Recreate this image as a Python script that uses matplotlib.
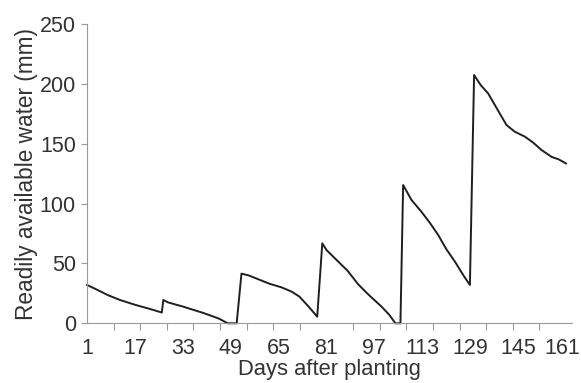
import numpy as np
import matplotlib
matplotlib.use('Agg')
from matplotlib import pyplot as plt
from matplotlib import transforms

# readily available water (piecewise, days after planting)
days = [1, 4, 8, 12, 17, 22, 26,
        26.5, 28, 33, 40, 45, 48, 51,
        52.6, 55, 62, 66, 69.4, 72, 75, 77.9,
        79.6, 81, 83.8, 88, 91.6, 95, 99.4, 102, 104, 105.7,
        106.6, 109.4, 112.7, 115.5, 118.3, 121, 123.9, 127, 128.9,
        130.3, 132.5, 135, 138, 141.1, 143.9, 147.2, 150, 152.8, 156.2, 158.5, 161]
water = [32, 28.5, 23.5, 19.5, 15.5, 12, 9,
         19.5, 17.5, 14, 8.5, 4, 0, 0,
         41.5, 40, 33, 30, 26.4, 22.2, 14, 5.5,
         66.8, 61.2, 54.3, 44, 32.5, 24, 13.9, 7, 0, 0,
         115.5, 103, 93.2, 84, 73.8, 62, 51.5, 39, 32,
         207.4, 199, 192, 179, 165.7, 160, 156, 151, 144.8, 139, 137, 133.5]

label_days = list(range(1, 162, 16))
tick_days = np.linspace(1, 161, 19)
y_ticks = [0, 50, 100, 150, 200, 250]

plt.rcParams['font.family'] = ['Liberation Sans', 'DejaVu Sans']

fig = plt.figure(figsize=(5.81, 3.83), dpi=100)
ax = fig.add_axes([0.1497, 0.1559, 0.8348, 0.7814])

ax.plot(days, water, color='#1f1f1f', lw=1.4, clip_on=False)

ax.set_xlim(1, 163)
ax.set_ylim(0, 250)

ax.set_xticks(label_days)
ax.set_xticks(tick_days, minor=True)
ax.set_yticks(y_ticks)

ax.tick_params(axis='x', which='major', length=0, pad=10.5, labelsize=15.5, labelcolor='#333333')
ax.tick_params(axis='x', which='minor', length=5, width=0.8, color='#999999', direction='out')
ax.tick_params(axis='y', length=4.5, width=0.8, color='#999999', pad=3.5, labelsize=15.5, labelcolor='#333333')

# nudge the last label so it stays inside the figure
last = ax.get_xticklabels()[-1]
last.set_transform(last.get_transform() + transforms.ScaledTranslation(-4 / 100, 0, fig.dpi_scale_trans))

for s in ['top', 'right']:
    ax.spines[s].set_visible(False)
for s in ['left', 'bottom']:
    ax.spines[s].set_color('#999999')
    ax.spines[s].set_linewidth(0.8)

ax.set_xlabel('Days after planting', fontsize=15.8, color='#333333', labelpad=0)
ax.set_ylabel('Readily available water (mm)', fontsize=16.3, color='#333333', labelpad=1)

fig.savefig('out.png', dpi=100)
